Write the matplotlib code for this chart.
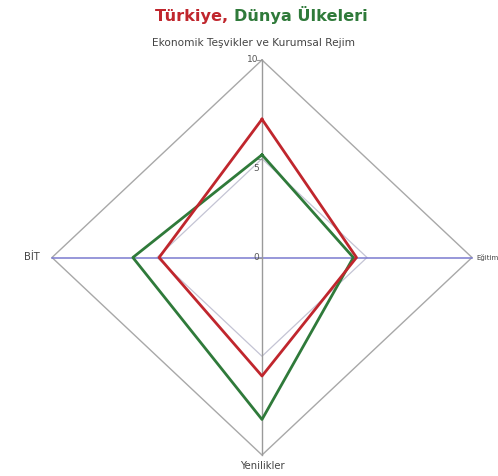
import matplotlib
matplotlib.use("Agg")
import matplotlib.pyplot as plt

# Radar axes, clockwise from the top
axes_labels = ["Ekonomik Teşvikler ve Kurumsal Rejim", "Eğitim", "Yenilikler", "BİT"]
turkiye = [7.0, 4.5, 6.0, 4.9]
dunya = [5.2, 4.35, 8.2, 6.15]
grid_levels = [5, 10]
tick_labels = ["0", "5", "10"]

RED = "#c0262d"
GREEN = "#2f7a3a"

# unit directions for the four spokes (top, right, bottom, left)
dirs = [(0, 1), (1, 0), (0, -1), (-1, 0)]


def to_xy(values):
    xs = [d[0] * v for d, v in zip(dirs, values)]
    ys = [d[1] * v for d, v in zip(dirs, values)]
    return xs + xs[:1], ys + ys[:1]


fig = plt.figure(figsize=(4.98, 4.76), dpi=100)
W, H = 498, 476
ax = fig.add_axes([52 / W, (H - 455) / H, 420 / W, 395 / H])
ax.set_xlim(-10, 10)
ax.set_ylim(-10, 10)
ax.axis("off")
PX_X = 21.0    # pixels per unit, horizontal
PX_Y = 19.75   # pixels per unit, vertical

# grid diamonds
gx, gy = to_xy([grid_levels[1]] * 4)
ax.plot(gx, gy, color="#a8a8a8", lw=1.0, clip_on=False, zorder=1)
gx, gy = to_xy([grid_levels[0]] * 4)
ax.plot(gx, gy, color="#c4c4d4", lw=0.9, clip_on=False, zorder=1)

# spokes
ax.plot([-10, 10], [0, 0], color="#7a7ad0", lw=1.1, clip_on=False, zorder=2)
ax.plot([0, 0], [-10, 10], color="#9a9a9a", lw=1.0, clip_on=False, zorder=2)

# value ticks on the vertical spoke
tick_pos = [0] + grid_levels
tick_shift = [0.0, -0.5, 0.0]
for lvl, lab, sh in zip(tick_pos, tick_labels, tick_shift):
    ax.plot([-0.25, 0], [lvl, lvl], color="#9a9a9a", lw=0.8, clip_on=False)
    ax.text(-0.15, lvl + sh, lab, ha="right", va="center", fontsize=6.5,
            color="#555555", family="DejaVu Sans")

# data series
tx, ty = to_xy(turkiye)
ax.plot(tx, ty, color=RED, lw=2.0, clip_on=False, zorder=4)
dx, dy = to_xy(dunya)
ax.plot(dx, dy, color=GREEN, lw=2.0, clip_on=False, zorder=3)

# axis labels
lab_kw = dict(color="#444444", family="DejaVu Sans")
ax.text(-0.4, 10.0 + 17 / PX_Y, axes_labels[0], ha="center", va="center",
        fontsize=7.6, **lab_kw)
ax.text(10.0 + 4 / PX_X, 0, axes_labels[1], ha="left", va="center",
        fontsize=5.0, **lab_kw)
ax.text(0, -10.0 - 11 / PX_Y, axes_labels[2], ha="center", va="center",
        fontsize=7.2, **lab_kw)
ax.text(-10.0 - 12 / PX_X, 0, axes_labels[3], ha="right", va="center",
        fontsize=7.2, **lab_kw)

# two-colour title
t1 = fig.text(155 / W, 1 - 16 / H, "Türkiye, ", color=RED, fontsize=11.6,
              fontweight="bold", family="DejaVu Sans", ha="left", va="center")
fig.canvas.draw()
ax.annotate("Dünya Ülkeleri", xy=(1, 0), xycoords=t1, ha="left", va="bottom",
            color=GREEN, fontsize=11.6, fontweight="bold", family="DejaVu Sans",
            annotation_clip=False)

fig.savefig("out.png", dpi=100)
